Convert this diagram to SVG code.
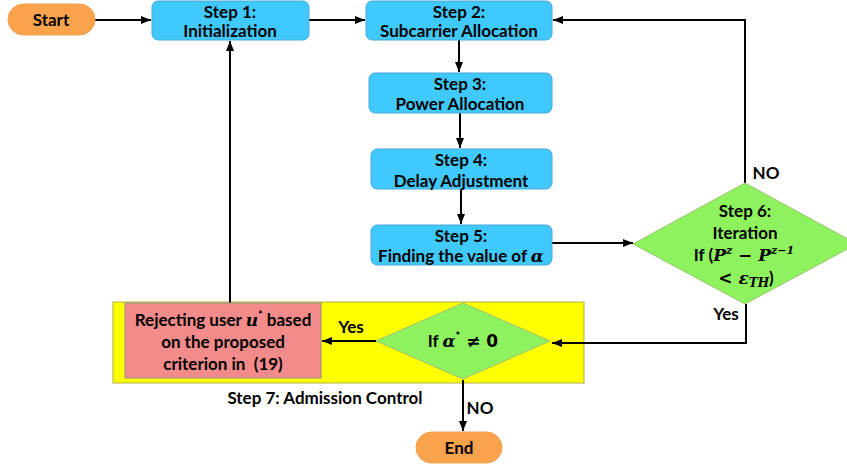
<svg xmlns="http://www.w3.org/2000/svg" width="847" height="468" viewBox="0 0 847 468">
<defs>
<marker id="ah" viewBox="0 0 10 10" refX="10" refY="5" markerWidth="5" markerHeight="5" orient="auto" markerUnits="strokeWidth">
<path d="M0,1 L10,5 L0,9 z" fill="#000"/>
</marker>
<style>
.t{font-family:Lato,"Open Sans","Liberation Sans",sans-serif;font-weight:bold;font-size:17px;fill:#000;text-anchor:middle}
.m{font-family:"DejaVu Serif","Liberation Serif",serif;font-style:italic;font-weight:bold}
.o{font-family:"DejaVu Sans",sans-serif;font-weight:bold}
.step{fill:#40C9FC;stroke:#4AA8D8;stroke-width:1}
.pill{fill:#FBA24C;stroke:#F0A050;stroke-width:1}
.dia{fill:#8DF25E;stroke:#A0C070;stroke-width:1}
.c{stroke:#000;stroke-width:2;fill:none}
</style>
</defs>
<rect width="847" height="468" fill="#fff"/>
<g id="admission-area">
<rect x="113" y="302" width="471" height="81" fill="#FFFF00" stroke="#B0B040" stroke-width="1"/>
<text class="t" x="325" y="404">Step 7: Admission Control</text>
</g>
<g id="connectors">
<line class="c" x1="95" y1="20" x2="151" y2="20" marker-end="url(#ah)"/>
<line class="c" x1="309" y1="20" x2="365" y2="20" marker-end="url(#ah)"/>
<line class="c" x1="459" y1="40" x2="459" y2="72" marker-end="url(#ah)"/>
<line class="c" x1="460" y1="113" x2="460" y2="148" marker-end="url(#ah)"/>
<line class="c" x1="461" y1="189" x2="461" y2="224" marker-end="url(#ah)"/>
<line class="c" x1="552" y1="243" x2="633" y2="243" marker-end="url(#ah)"/>
<polyline class="c" points="745,183 745,20 553,20" marker-end="url(#ah)"/>
<polyline class="c" points="746,304 746,343 552,343" marker-end="url(#ah)"/>
<line class="c" x1="376" y1="341" x2="322" y2="341" marker-end="url(#ah)"/>
<line class="c" x1="230" y1="303" x2="230" y2="41" marker-end="url(#ah)"/>
<line class="c" x1="463" y1="380" x2="463" y2="431" marker-end="url(#ah)"/>
<text class="t" x="766" y="179">NO</text>
<text class="t" x="726" y="320">Yes</text>
<text class="t" x="351" y="333">Yes</text>
<text class="t" x="480" y="414">NO</text>
</g>
<g id="start">
<rect class="pill" x="8" y="4" width="87" height="31" rx="15.5"/>
<text class="t" x="51" y="26">Start</text>
</g>
<g id="step1">
<rect class="step" x="152" y="1" width="157" height="39" rx="6"/>
<text class="t" x="230" y="18">Step 1:</text>
<text class="t" x="230" y="37">Initialization</text>
</g>
<g id="step2">
<rect class="step" x="366" y="1" width="186" height="39" rx="6"/>
<text class="t" x="459" y="18">Step 2:</text>
<text class="t" x="459" y="37">Subcarrier Allocation</text>
</g>
<g id="step3">
<rect class="step" x="369" y="73" width="183" height="40" rx="6"/>
<text class="t" x="460" y="90">Step 3:</text>
<text class="t" x="460" y="110">Power Allocation</text>
</g>
<g id="step4">
<rect class="step" x="371" y="149" width="181" height="40" rx="6"/>
<text class="t" x="461" y="166">Step 4:</text>
<text class="t" x="461" y="187">Delay Adjustment</text>
</g>
<g id="step5">
<rect class="step" x="371" y="225" width="181" height="40" rx="6"/>
<text class="t" x="461" y="242">Step 5:</text>
<text class="t" x="461" y="262">Finding the value of <tspan class="m" font-weight="normal">α</tspan></text>
</g>
<g id="step6">
<polygon class="dia" points="633,244 745,183 857,244 745,304"/>
<text class="t" x="745" y="217">Step 6:</text>
<text class="t" x="745" y="239">Iteration</text>
<text class="t" x="744" y="261">If (<tspan class="m">P</tspan><tspan class="m" font-size="11" dy="-7">z</tspan><tspan class="o" dy="7"> − </tspan><tspan class="m">P</tspan><tspan class="m" font-size="11" dy="-7">z−1</tspan></text>
<text class="t" x="746" y="284"><tspan class="o">&lt; </tspan><tspan class="m" font-weight="normal">ε</tspan><tspan class="m" font-size="12" dy="3">TH</tspan><tspan dy="-3">)</tspan></text>
</g>
<g id="reject">
<rect x="125" y="303" width="196" height="75" fill="#F28B8A" stroke="#909090" stroke-width="1"/>
<text class="t" x="223" y="326">Rejecting user <tspan class="m" font-weight="normal">u</tspan><tspan font-size="11" dy="-7">*</tspan><tspan dy="7"> based</tspan></text>
<text class="t" x="223" y="348">on the proposed</text>
<text class="t" x="223" y="370">criterion in&#160; (19)</text>
</g>
<g id="check-alpha">
<polygon class="dia" points="376,341 463,303 550,341 463,379"/>
<text class="t" x="463" y="347">If <tspan class="m">α</tspan><tspan font-size="11" dy="-7">*</tspan><tspan class="o" dy="7"> ≠ 0</tspan></text>
</g>
<g id="end">
<rect class="pill" x="416" y="432" width="86" height="31" rx="15.5"/>
<text class="t" x="459" y="454">End</text>
</g>
</svg>
